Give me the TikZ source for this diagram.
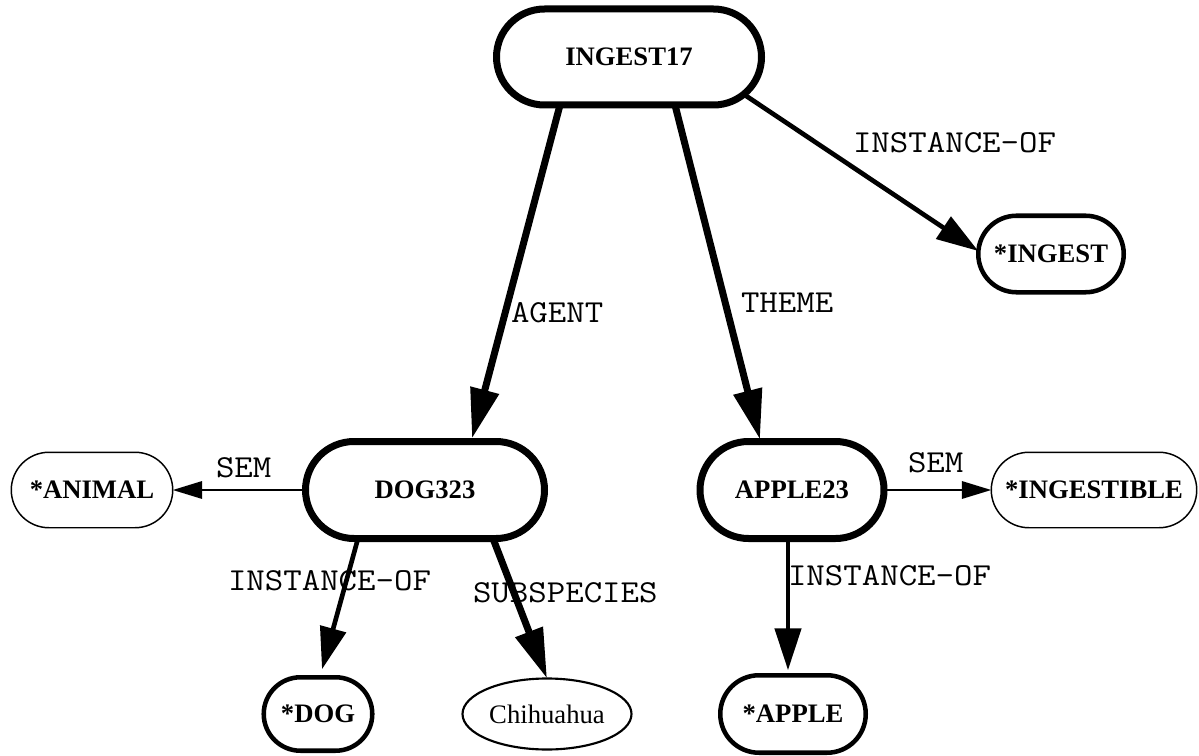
\documentclass[tikz,border=0pt]{standalone}
\usepackage{fontspec}
\setmainfont{Liberation Serif}
\usetikzlibrary{shapes.misc,shapes.geometric,arrows.meta,calc}
\begin{document}
\begin{tikzpicture}[x=0.75pt,y=-0.75pt,
  every node/.style={inner sep=0pt, outer sep=0pt},
  concept/.style={rounded rectangle, draw, fill=white, font=\fontsize{20}{24}\selectfont\bfseries},
  heavy/.style={concept, line width=5.25pt},
  medium/.style={concept, line width=3.4pt},
  light/.style={concept, line width=1.1pt},
  plain/.style={ellipse, draw, fill=white, line width=1.6pt, font=\fontsize{20}{24}\selectfont},
  lbl/.style={anchor=base west, xscale=1.12, font=\ttfamily\fontsize{24}{26}\selectfont},
  thickedge/.style={line width=5.25pt, -{Triangle[length=37.5pt,width=21pt]}},
  midedge/.style={line width=3.5pt, -{Triangle[length=31.5pt,width=19.5pt]}},
  thinedge/.style={line width=1.6pt, -{Triangle[length=22pt,width=13pt]}}
]
\useasboundingbox (0,0) rectangle (1199,756);

\node[heavy, minimum width=198.75pt, minimum height=72pt] (ingest) at (629,57) {INGEST17};
\node[heavy, minimum width=179.25pt, minimum height=72.75pt] (dog) at (425,490) {DOG323};
\node[heavy, minimum width=138pt, minimum height=72.75pt] (apple) at (792,490) {APPLE23};
\node[medium, minimum width=109.1pt, minimum height=57.4pt] (inst) at (1051,254) {*INGEST};
\node[medium, minimum width=81.4pt, minimum height=55.1pt] (dogc) at (318,714) {*DOG};
\node[medium, minimum width=109.1pt, minimum height=58.1pt] (applec) at (793,714) {*APPLE};
\node[light, minimum width=121.1pt, minimum height=56.6pt] (animal) at (92,490) {*ANIMAL};
\node[light, minimum width=154.1pt, minimum height=56.6pt] (ingestible) at (1094,490) {*INGESTIBLE};
\node[plain, minimum width=126.75pt, minimum height=53.25pt] (chi) at (547,714) {Chihuahua};

\draw[thickedge] ($(ingest.south)+(-69,0)$) -- ($(dog.north)+(47,-3)$);
\draw[thickedge] ($(ingest.south)+(46,0)$) -- ($(apple.north)+(-32,-2)$);
\draw[midedge] (ingest.-18.6) -- ($(inst.west)+(0,-3)$);
\draw[thinedge] (dog.west) -- (animal.east);
\draw[thinedge] (apple.east) -- (ingestible.west);
\draw[midedge] ($(dog.south)+(-67,0)$) -- ($(dogc.north)+(4,-8)$);
\draw[thickedge] ($(dog.south)+(68,0)$) -- (chi.north);
\draw[midedge] ($(apple.south)+(-4,0)$) -- ($(applec.north)+(-5,-5)$);

\node[lbl] (l1) at (853,153) {INSTANCE-OF};
\node[lbl] (l2) at (511,322) {AGENT};
\node[lbl] (l3) at (741,312) {THEME};
\node[lbl] (l4) at (216,477) {SEM};
\node[lbl] (l5) at (908,472) {SEM};
\node[lbl] (l6) at (228,590) {INSTANCE-OF};
\node[lbl] (l7) at (473,602) {SUBSPECIES};
\node[lbl] (l8) at (788,585) {INSTANCE-OF};
\end{tikzpicture}
\end{document}
